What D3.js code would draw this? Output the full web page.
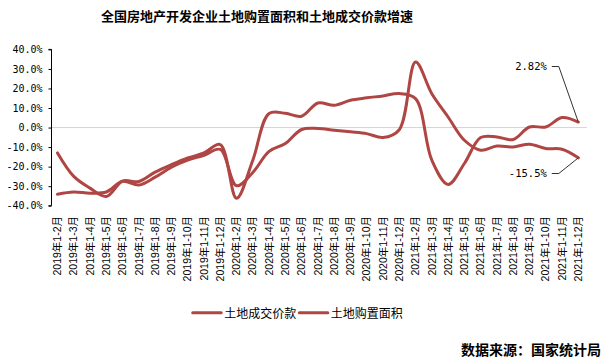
<!DOCTYPE html>
<html><head><meta charset="utf-8">
<script src="https://cdn.jsdelivr.net/npm/d3@7"></script>
<style>
html,body{margin:0;padding:0;background:#fff;}
svg{display:block;}
</style></head>
<body>
<script>
const categories = [
 "2019年1-2月","2019年1-3月","2019年1-4月","2019年1-5月","2019年1-6月","2019年1-7月","2019年1-8月","2019年1-9月","2019年1-10月","2019年1-11月","2019年1-12月",
 "2020年1-2月","2020年1-3月","2020年1-4月","2020年1-5月","2020年1-6月","2020年1-7月","2020年1-8月","2020年1-9月","2020年1-10月","2020年1-11月","2020年1-12月",
 "2021年1-2月","2021年1-3月","2021年1-4月","2021年1-5月","2021年1-6月","2021年1-7月","2021年1-8月","2021年1-9月","2021年1-10月","2021年1-11月","2021年1-12月"];
const landPrice = [-13.0,-25.0,-31.0,-35.3,-27.4,-27.6,-22.8,-19.0,-15.6,-13.0,-8.7,
 -36.2,-16.7,7.2,7.3,5.8,12.6,11.4,14.0,15.2,16.2,17.4,
 14.8,-16.7,-29.1,-18.4,-5.1,-4.8,-6.1,0.3,0.3,5.1,2.82];
const landArea = [-34.1,-33.0,-33.6,-33.0,-27.5,-29.4,-25.4,-20.3,-16.7,-14.2,-11.2,
 -29.8,-23.0,-12.2,-8.2,-1.0,-0.5,-1.4,-2.2,-3.1,-5.1,-1.1,
 33.5,17.3,5.4,-6.5,-11.6,-9.5,-9.9,-8.5,-10.7,-11.1,-15.5];
const seriesNames = ["土地成交价款","土地购置面积"];
const yTicks = [-40,-30,-20,-10,0,10,20,30,40];
const title = "全国房地产开发企业土地购置面积和土地成交价款增速";
const source = "数据来源：国家统计局";

const W = 609, H = 364;
const color = "#b04644";
const svg = d3.select("body").append("svg").attr("width", W).attr("height", H);

const x = d3.scalePoint().domain(categories).range([57.5, 578.3]);
const y = d3.scaleLinear().domain([-40, 40]).range([205.7, 49.4]);

// title
svg.append("text").attr("x", 257).attr("y", 21).attr("text-anchor", "middle")
  .attr("font-family", "'Noto Sans CJK SC', sans-serif").attr("font-size", 13).attr("font-weight", "bold")
  .attr("fill", "#000").text(title);

// zero gridline
svg.append("line").attr("x1", 51).attr("x2", 587).attr("y1", y(0)).attr("y2", y(0))
  .attr("stroke", "#d4d4d4").attr("stroke-width", 1);

// y axis
const yAxis = d3.axisLeft(y).tickValues(yTicks).tickSize(3).tickPadding(6)
  .tickFormat(d => d.toFixed(1) + "%");
const gy = svg.append("g").attr("transform", "translate(51.5,0)").call(yAxis);
gy.select(".domain").attr("stroke", "#000").attr("d", `M-3,${y(40)}H0V${y(-40)}H-3`);
gy.selectAll(".tick line").attr("stroke", "#000");
gy.selectAll(".tick text").attr("font-family", "'DejaVu Sans Mono', monospace").attr("font-size", 10).attr("fill", "#000");

// x labels
const gx = svg.append("g");
gx.selectAll("text").data(categories).join("text")
  .attr("transform", d => `translate(${x(d)},216) rotate(-90)`)
  .attr("text-anchor", "end").attr("dy", "0.35em")
  .attr("font-family", "'Liberation Sans', 'Noto Sans CJK SC', sans-serif").attr("font-size", 10.5)
  .attr("fill", "#000").text(d => d);

// lines
const line = d3.line().x((d, i) => x(categories[i])).y(d => y(d)).curve(d3.curveCatmullRom.alpha(0.5));
[landPrice, landArea].forEach(s => {
  svg.append("path").datum(s).attr("d", line).attr("fill", "none")
    .attr("stroke", color).attr("stroke-width", 3).attr("stroke-linejoin", "round").attr("stroke-linecap", "round");
});

// annotations
const lastCat = categories[categories.length - 1];
const px = x(lastCat);
function annot(val, label, ty) {
  const py = y(val);
  svg.append("path").attr("d", `M${px - 26.5},${ty}H${px - 19.5}L${px},${py}`)
    .attr("fill", "none").attr("stroke", "#333").attr("stroke-width", 1);
  svg.append("text").attr("x", px - 31.5).attr("y", ty).attr("dy", "0.35em").attr("text-anchor", "end")
    .attr("font-family", "'DejaVu Sans Mono', monospace").attr("font-size", 10.5).attr("fill", "#000").text(label);
}
annot(landPrice[landPrice.length - 1], "2.82%", 66.5);
annot(landArea[landArea.length - 1], "-15.5%", 173.5);

// legend
const legendX = [192.7, 299.3];
seriesNames.forEach((n, i) => {
  svg.append("line").attr("x1", legendX[i]).attr("x2", legendX[i] + 28.5).attr("y1", 312.7).attr("y2", 312.7)
    .attr("stroke", color).attr("stroke-width", 3).attr("stroke-linecap", "round");
  svg.append("text").attr("x", legendX[i] + 31.5).attr("y", 318)
    .attr("font-family", "'Noto Sans CJK SC', sans-serif").attr("font-size", 12).attr("fill", "#000").text(n);
});

// source
svg.append("text").attr("x", 601).attr("y", 355).attr("text-anchor", "end")
  .attr("font-family", "'Noto Sans CJK SC', sans-serif").attr("font-size", 14).attr("font-weight", "bold")
  .attr("fill", "#000").text(source);
</script>
</body></html>
